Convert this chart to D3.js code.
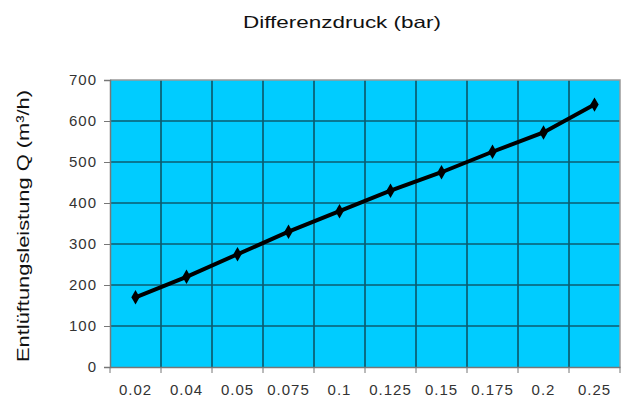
<!DOCTYPE html>
<html>
<head>
<meta charset="utf-8">
<script src="https://cdn.jsdelivr.net/npm/d3@7"></script>
<style>
  body { margin: 0; background: #fff; }
  svg { display: block; font-family: "Liberation Sans", Arial, sans-serif; }
</style>
</head>
<body>
<div id="chart"></div>
<script>
// data
var pressures = ["0.02", "0.04", "0.05", "0.075", "0.1", "0.125", "0.15", "0.175", "0.2", "0.25"];
var flow      = [170, 220, 275, 330, 380, 430, 475, 525, 572, 640];
var yTicks    = [0, 100, 200, 300, 400, 500, 600, 700];

var width = 628, height = 401,
    margin = {top: 80, right: 8, bottom: 34, left: 110};

var svg = d3.select("#chart").append("svg")
    .attr("width", width)
    .attr("height", height);

var x = d3.scaleBand()
    .domain(pressures)
    .range([margin.left, width - margin.right]);

var y = d3.scaleLinear()
    .domain([0, 700])
    .range([height - margin.bottom, margin.top]);

// plot background
svg.append("rect")
    .attr("x", margin.left)
    .attr("y", margin.top)
    .attr("width", width - margin.left - margin.right)
    .attr("height", height - margin.top - margin.bottom)
    .style("fill", "#00ccff");

// horizontal grid
svg.append("g").selectAll("line")
    .data(yTicks.slice(1, -1))
    .enter().append("line")
    .attr("x1", margin.left)
    .attr("x2", width - margin.right)
    .attr("y1", function(d){ return y(d); })
    .attr("y2", function(d){ return y(d); })
    .style("stroke", "#0b5c70")
    .style("stroke-width", 1.7);

// vertical grid at band edges
svg.append("g").selectAll("line")
    .data(pressures.slice(1))
    .enter().append("line")
    .attr("x1", function(d){ return x(d); })
    .attr("x2", function(d){ return x(d); })
    .attr("y1", margin.top)
    .attr("y2", height - margin.bottom)
    .style("stroke", "#0b5c70")
    .style("stroke-width", 1.7);

// border top / right
svg.append("path")
    .attr("d", "M" + margin.left + "," + margin.top + "H" + (width - margin.right) + "V" + (height - margin.bottom))
    .style("fill", "none")
    .style("stroke", "#999")
    .style("stroke-width", 1.5);

// y axis
var yAxis = svg.append("g")
    .attr("transform", "translate(" + margin.left + ",0)")
    .call(d3.axisLeft(y).tickValues(yTicks).tickSize(6).tickPadding(7));

// x axis (ticks at band edges)
var xAxis = svg.append("g")
    .attr("transform", "translate(0," + (height - margin.bottom) + ")")
    .call(d3.axisBottom(x).tickSize(0).tickPadding(17));

xAxis.selectAll(".tick").append("line")
    .attr("x1", x.bandwidth() / 2)
    .attr("x2", x.bandwidth() / 2)
    .attr("y2", 6)
    .style("stroke", "#777");
xAxis.append("line")
    .attr("x1", margin.left).attr("x2", margin.left)
    .attr("y2", 6)
    .style("stroke", "#777");

[yAxis, xAxis].forEach(function(a){
  a.select(".domain").style("stroke", "#777").style("stroke-width", 1.5);
  a.selectAll(".tick line").style("stroke", "#777");
  a.selectAll("text")
    .style("font-size", "15px")
    .style("letter-spacing", "1px")
    .style("fill", "#333")
    .style("font-family", "Liberation Sans, Arial, sans-serif");
});

// line
var line = d3.line()
    .x(function(d, i){ return x(pressures[i]) + x.bandwidth() / 2; })
    .y(function(d){ return y(d); });

svg.append("path")
    .datum(flow)
    .attr("d", line)
    .style("fill", "none")
    .style("stroke", "#000")
    .style("stroke-width", 4);

svg.append("g").selectAll("path")
    .data(flow)
    .enter().append("path")
    .attr("d", d3.symbol().type(d3.symbolDiamond).size(60))
    .attr("transform", function(d, i){
      return "translate(" + (x(pressures[i]) + x.bandwidth() / 2) + "," + y(d) + ")";
    })
    .style("fill", "#000");

// titles
svg.append("text")
    .attr("x", 342)
    .attr("y", 28)
    .attr("text-anchor", "middle")
    .attr("textLength", 198)
    .attr("lengthAdjust", "spacingAndGlyphs")
    .style("font-size", "16.5px")
    .style("fill", "#111")
    .text("Differenzdruck (bar)");

svg.append("text")
    .attr("transform", "translate(29,226) rotate(-90)")
    .attr("text-anchor", "middle")
    .attr("textLength", 272)
    .attr("lengthAdjust", "spacingAndGlyphs")
    .style("font-size", "17px")
    .style("fill", "#111")
    .text("Entlüftungsleistung Q (m³/h)");
</script>
</body>
</html>
